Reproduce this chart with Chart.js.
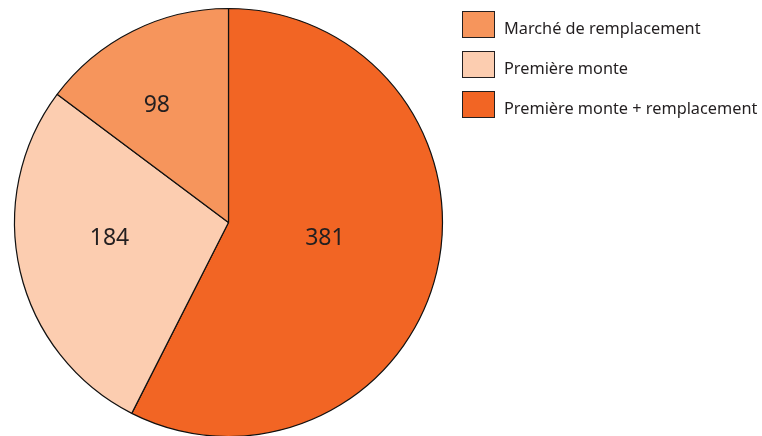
<!DOCTYPE html>
<html lang="fr">
<head>
  <meta charset="UTF-8">
  <title>Pie</title>
  <script src="https://cdn.jsdelivr.net/npm/chart.js"></script>
  <style>
    html, body { margin: 0; padding: 0; background: #fff; }
    #wrap { position: relative; width: 762px; height: 436px; overflow: hidden; }
    #legend { position: absolute; left: 462px; top: 11px; font-family: "Noto Sans", sans-serif; font-size: 16.3px; color: #231f20; }
    .item { display: flex; align-items: center; height: 27px; margin-bottom: 13px; }
    .item span { position: relative; top: 3px; }
    .box { width: 31px; height: 25px; border: 1.5px solid #231f20; margin-right: 9px; }
  </style>
</head>
<body>
  <div id="wrap">
    <canvas id="pie" width="762" height="436"></canvas>
    <div id="legend"></div>
  </div>
  <script>
    // clockwise from 12 o'clock
    const categories = ["Première monte + remplacement", "Première monte", "Marché de remplacement"];
    const counts = [381, 184, 98];
    const colors = ["#F26524", "#FCCDB0", "#F6955C"];
    // where each number sits inside its slice (share of angle, share of radius)
    const labelAngle = [0.474, 0.563, 0.417];
    const labelRadius = [0.455, 0.56, 0.65];

    // legend, listed in reverse order
    const legend = document.getElementById('legend');
    categories.slice().reverse().forEach((name, i) => {
      const idx = categories.length - 1 - i;
      const row = document.createElement('div');
      row.className = 'item';
      row.innerHTML = '<div class="box" style="background:' + colors[idx] + '"></div><span>' + name + '</span>';
      legend.appendChild(row);
    });

    const sliceLabels = {
      id: 'sliceLabels',
      afterDatasetsDraw(chart) {
        const ctx = chart.ctx;
        const meta = chart.getDatasetMeta(0);
        ctx.save();
        ctx.font = '23px "Noto Sans", sans-serif';
        ctx.fillStyle = '#231f20';
        ctx.textAlign = 'center';
        ctx.textBaseline = 'middle';
        meta.data.forEach((arc, i) => {
          const p = arc.getProps(['x', 'y', 'startAngle', 'endAngle', 'outerRadius'], true);
          const a = p.startAngle + (p.endAngle - p.startAngle) * labelAngle[i];
          const r = p.outerRadius * labelRadius[i];
          ctx.fillText(String(counts[i]), p.x + Math.cos(a) * r, p.y + Math.sin(a) * r + 2);
        });
        ctx.restore();
      }
    };

    new Chart(document.getElementById('pie'), {
      type: 'pie',
      data: {
        labels: categories,
        datasets: [{
          data: counts,
          backgroundColor: colors,
          borderColor: '#111',
          borderWidth: 1.2,
          clip: false
        }]
      },
      options: {
        responsive: false,
        animation: false,
        radius: 214,
        layout: { padding: { left: 0, right: 305, top: 9, bottom: 0 } },
        plugins: {
          legend: { display: false },
          tooltip: { enabled: false }
        }
      },
      plugins: [sliceLabels]
    });
  </script>
</body>
</html>
